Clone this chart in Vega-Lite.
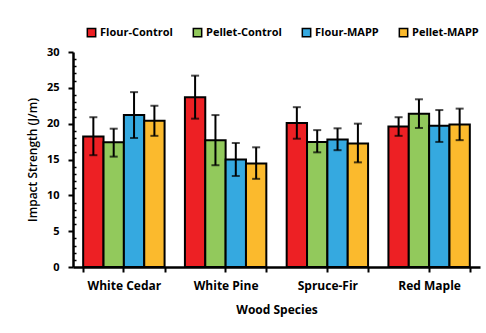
{
  "$schema": "https://vega.github.io/schema/vega-lite/v6.json",
  "autosize": "none",
  "width": 407,
  "height": 215,
  "padding": {"left": 73, "top": 52, "right": 6, "bottom": 66},
  "background": "white",
  "config": {
    "view": {"stroke": null},
    "font": "Open Sans",
    "axis": {"grid": false, "domainColor": "black", "domainWidth": 2.5, "tickColor": "black", "tickWidth": 2, "labelColor": "black", "titleColor": "black", "labelFont": "Open Sans", "titleFont": "Open Sans"}
  },
  "data": {"values": [
    {"species": "White Cedar", "group": "Flour-Control", "value": 18.2, "lo": 15.6, "hi": 20.9},
    {"species": "White Cedar", "group": "Pellet-Control", "value": 17.4, "lo": 15.4, "hi": 19.3},
    {"species": "White Cedar", "group": "Flour-MAPP", "value": 21.2, "lo": 18.0, "hi": 24.4},
    {"species": "White Cedar", "group": "Pellet-MAPP", "value": 20.4, "lo": 18.3, "hi": 22.5},
    {"species": "White Pine", "group": "Flour-Control", "value": 23.7, "lo": 20.7, "hi": 26.7},
    {"species": "White Pine", "group": "Pellet-Control", "value": 17.7, "lo": 14.2, "hi": 21.2},
    {"species": "White Pine", "group": "Flour-MAPP", "value": 15.0, "lo": 12.7, "hi": 17.3},
    {"species": "White Pine", "group": "Pellet-MAPP", "value": 14.45, "lo": 12.3, "hi": 16.7},
    {"species": "Spruce-Fir", "group": "Flour-Control", "value": 20.1, "lo": 17.9, "hi": 22.3},
    {"species": "Spruce-Fir", "group": "Pellet-Control", "value": 17.45, "lo": 16.0, "hi": 19.1},
    {"species": "Spruce-Fir", "group": "Flour-MAPP", "value": 17.8, "lo": 16.3, "hi": 19.35},
    {"species": "Spruce-Fir", "group": "Pellet-MAPP", "value": 17.25, "lo": 14.6, "hi": 20.0},
    {"species": "Red Maple", "group": "Flour-Control", "value": 19.6, "lo": 18.3, "hi": 20.9},
    {"species": "Red Maple", "group": "Pellet-Control", "value": 21.4, "lo": 19.4, "hi": 23.4},
    {"species": "Red Maple", "group": "Flour-MAPP", "value": 19.7, "lo": 17.45, "hi": 21.9},
    {"species": "Red Maple", "group": "Pellet-MAPP", "value": 19.9, "lo": 17.7, "hi": 22.1}
  ]},
  "encoding": {
    "x": {"field": "species", "type": "nominal", "sort": ["White Cedar", "White Pine", "Spruce-Fir", "Red Maple"],
      "scale": {"paddingInner": 0.2, "paddingOuter": 0.1}},
    "xOffset": {"field": "group", "type": "nominal", "sort": ["Flour-Control", "Pellet-Control", "Flour-MAPP", "Pellet-MAPP"], "scale": {"paddingInner": 0, "paddingOuter": 0}}
  },
  "layer": [
    {
      "mark": {"type": "bar", "stroke": "black", "strokeWidth": 2},
      "encoding": {
        "x": {"field": "species", "type": "nominal", "sort": ["White Cedar", "White Pine", "Spruce-Fir", "Red Maple"],
          "axis": {"title": "Wood Species", "orient": "bottom", "labelAngle": 0, "labelFontSize": 12, "labelFontWeight": "bold", "labelPadding": 8, "tickBand": "extent", "tickSize": 5, "titleFontSize": 12, "titleFontWeight": "bold", "titlePadding": 13}},
        "y": {"field": "value", "type": "quantitative", "scale": {"domain": [0, 30], "nice": false},
          "axis": {"title": "Impact Strength (J/m)", "orient": "left", "values": [0, 5, 10, 15, 20, 25, 30], "labelFontSize": 11, "labelFontWeight": "bold", "tickSize": 5, "labelPadding": 9, "titleFontSize": 12, "titleFontWeight": 600, "titlePadding": 7}},
        "color": {"field": "group", "type": "nominal", "sort": ["Flour-Control", "Pellet-Control", "Flour-MAPP", "Pellet-MAPP"],
          "scale": {"domain": ["Flour-Control", "Pellet-Control", "Flour-MAPP", "Pellet-MAPP"], "range": ["#ED2024", "#92C95C", "#35A9E0", "#FBBA2D"]},
          "legend": {"title": null, "orient": "none", "legendX": 13, "legendY": -25, "direction": "horizontal", "columns": 4, "columnPadding": 17, "symbolType": "square", "symbolSize": 70, "symbolStrokeColor": "black", "symbolStrokeWidth": 1.5, "symbolOpacity": 1, "labelFontSize": 11, "labelFontWeight": "bold", "labelColor": "black", "labelFont": "Open Sans", "labelOffset": 3}}
      }
    },
    {
      "mark": {"type": "rule", "color": "black", "strokeWidth": 2},
      "encoding": {
        "x": {"field": "species", "type": "nominal", "sort": ["White Cedar", "White Pine", "Spruce-Fir", "Red Maple"],
          "axis": {"title": null, "orient": "bottom", "labels": false, "domain": false, "tickBand": "center", "tickSize": 5}},
        "y": {"field": "lo", "type": "quantitative",
          "axis": {"title": null, "orient": "left", "labels": false, "domain": false, "values": [1,2,3,4,6,7,8,9,11,12,13,14,16,17,18,19,21,22,23,24,26,27,28,29], "tickSize": -3, "tickWidth": 1.5}},
        "y2": {"field": "hi"}
      }
    },
    {
      "mark": {"type": "tick", "color": "black", "thickness": 2, "size": 8},
      "encoding": {"y": {"field": "lo", "type": "quantitative", "axis": null}, "x": {"field": "species", "type": "nominal", "sort": ["White Cedar", "White Pine", "Spruce-Fir", "Red Maple"], "axis": null}}
    },
    {
      "mark": {"type": "tick", "color": "black", "thickness": 2, "size": 8},
      "encoding": {"y": {"field": "hi", "type": "quantitative", "axis": null}, "x": {"field": "species", "type": "nominal", "sort": ["White Cedar", "White Pine", "Spruce-Fir", "Red Maple"], "axis": null}}
    }
  ],
  "resolve": {"axis": {"x": "independent", "y": "independent"}}
}
